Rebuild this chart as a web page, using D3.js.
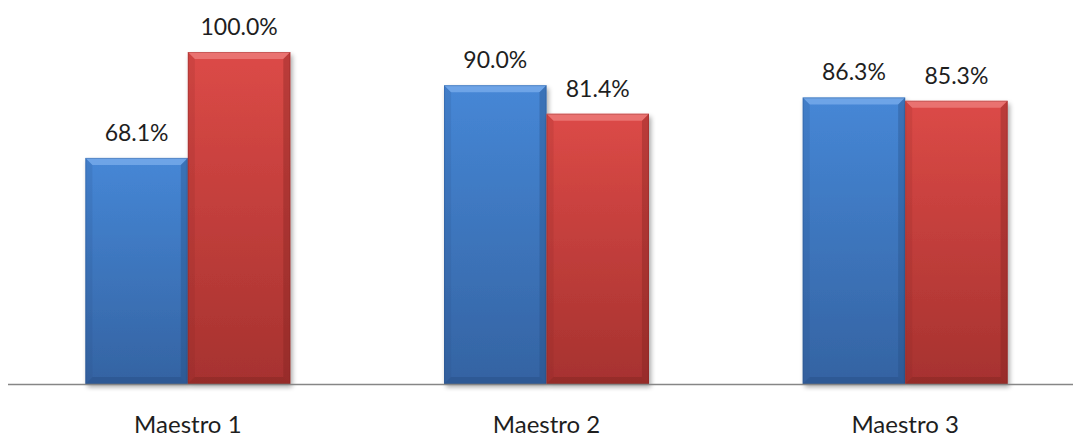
<!DOCTYPE html>
<html>
<head>
<meta charset="utf-8">
<script src="https://cdn.jsdelivr.net/npm/d3@7"></script>
<style>
  html, body { margin: 0; padding: 0; background: #fff; }
  svg { display: block; }
  text { font-family: Lato, "Open Sans", sans-serif; fill: #1e1e1e; }
</style>
</head>
<body>
<div id="chart"></div>
<script>
// data
const categories = ["Maestro 1", "Maestro 2", "Maestro 3"];
const series = ["A", "B"];
const valuesA = [68.1, 90.0, 86.3];
const valuesB = [100.0, 81.4, 85.3];

const width = 1075, height = 442;
const baseY = 384;
const axisX0 = 8, axisX1 = 1073;

const svg = d3.select("#chart").append("svg")
  .attr("width", width)
  .attr("height", height);

const defs = svg.append("defs");

// colours per series: top / bottom of the body gradient
const palette = {
  A: {top: "#4687d6", bottom: "#3463a2", light: "#7fb0ee", dark: "#264c80"},
  B: {top: "#dc4a47", bottom: "#a6322f", light: "#f08482", dark: "#7e2220"}
};

series.forEach(s => {
  const g = defs.append("linearGradient")
    .attr("id", "body" + s)
    .attr("x1", 0).attr("y1", 0).attr("x2", 0).attr("y2", 1);
  g.append("stop").attr("offset", "0%").attr("stop-color", palette[s].top);
  g.append("stop").attr("offset", "100%").attr("stop-color", palette[s].bottom);
});

const shadow = defs.append("filter").attr("id", "shadow")
  .attr("x", "-10%").attr("y", "-10%").attr("width", "130%").attr("height", "130%");
shadow.append("feGaussianBlur").attr("in", "SourceAlpha").attr("stdDeviation", 2.5);
shadow.append("feOffset").attr("dx", 2).attr("dy", 3).attr("result", "off");
shadow.append("feComponentTransfer").append("feFuncA").attr("type", "linear").attr("slope", 0.35);
const merge = shadow.append("feMerge");
merge.append("feMergeNode");
merge.append("feMergeNode").attr("in", "SourceGraphic");

// scales
const x0 = d3.scaleBand().domain(categories).range([axisX0 + 0.5, 1084.5]).padding(0);
const x1 = d3.scaleBand().domain(series).range([0, x0.bandwidth()]).paddingInner(0).paddingOuter(0.75);
const y = d3.scaleLinear().domain([0, 100]).range([baseY, 52]);

const rows = [];
categories.forEach((c, i) => {
  rows.push({cat: c, s: "A", v: valuesA[i]});
  rows.push({cat: c, s: "B", v: valuesB[i]});
});

const bars = svg.append("g").selectAll("g.bar")
  .data(rows)
  .join("g")
  .attr("class", "bar")
  .attr("transform", d => `translate(${x0(d.cat) + x1(d.s)},${y(d.v)})`);

bars.each(function(d) {
  const g = d3.select(this);
  const w = x1.bandwidth();
  const h = baseY - y(d.v);
  const b = 7; // bevel size
  const p = palette[d.s];

  g.append("rect")
    .attr("width", w).attr("height", h)
    .attr("fill", `url(#body${d.s})`)
    .attr("filter", "url(#shadow)");

  // top bevel
  g.append("path")
    .attr("d", `M0,0 L${w},0 L${w - b},${b} L${b},${b} Z`)
    .attr("fill", p.light).attr("opacity", 0.7);
  // left bevel
  g.append("path")
    .attr("d", `M0,0 L${b},${b} L${b},${h - b} L0,${h} Z`)
    .attr("fill", p.dark).attr("opacity", 0.15);
  // right bevel
  g.append("path")
    .attr("d", `M${w},0 L${w},${h} L${w - b},${h - b} L${w - b},${b} Z`)
    .attr("fill", p.dark).attr("opacity", 0.35);
  // bottom bevel
  g.append("path")
    .attr("d", `M0,${h} L${b},${h - b} L${w - b},${h - b} L${w},${h} Z`)
    .attr("fill", p.dark).attr("opacity", 0.4);
  // thin outline
  g.append("rect")
    .attr("x", 0.5).attr("y", 0.5)
    .attr("width", w - 1).attr("height", h - 1)
    .attr("fill", "none")
    .attr("stroke", p.dark).attr("stroke-opacity", 0.3);
});

// value labels
svg.append("g").selectAll("text")
  .data(rows)
  .join("text")
  .attr("x", d => x0(d.cat) + x1(d.s) + x1.bandwidth() / 2)
  .attr("y", d => y(d.v) - 17)
  .attr("text-anchor", "middle")
  .style("font-size", "23px")
  .text(d => d.v.toFixed(1) + "%");

// axis line
svg.append("line")
  .attr("x1", axisX0).attr("x2", axisX1)
  .attr("y1", baseY + 0.5).attr("y2", baseY + 0.5)
  .attr("stroke", "#868686").attr("stroke-width", 1.5);

// category labels
svg.append("g").selectAll("text")
  .data(categories)
  .join("text")
  .attr("x", d => x0(d) + x0.bandwidth() / 2)
  .attr("y", 433)
  .attr("text-anchor", "middle")
  .style("font-size", "24px")
  .text(d => d);
</script>
</body>
</html>
